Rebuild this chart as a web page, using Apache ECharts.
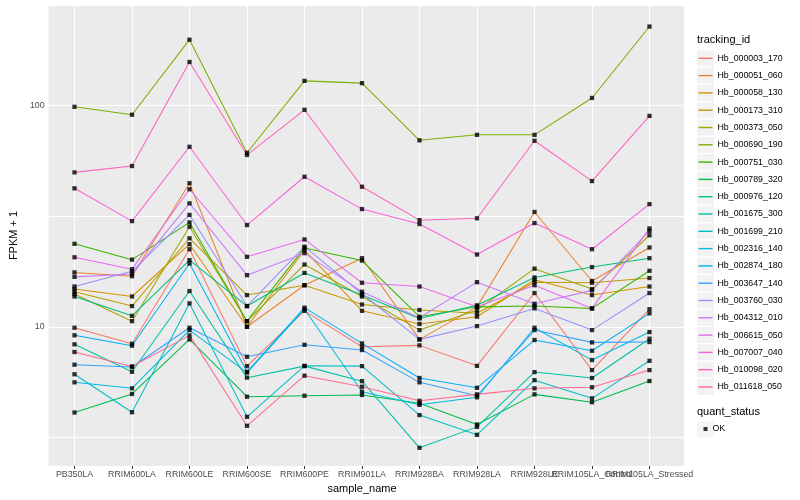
<!DOCTYPE html>
<html>
<head>
<meta charset="utf-8">
<script src="https://cdn.jsdelivr.net/npm/echarts@6/dist/echarts.min.js"></script>
<style>html,body{margin:0;padding:0;background:#fff}#c{width:800px;height:500px}</style>
</head>
<body>
<div id="c"></div>
<script>
const categories = ['PB350LA','RRIM600LA','RRIM600LE','RRIM600SE','RRIM600PE','RRIM901LA','RRIM928BA','RRIM928LA','RRIM928LE','RRIM105LA_Control','RRIM105LA_Stressed'];
const yTickLabels = ['10', '100'];
const yMinorBreaks = [3.162, 31.62];

const hb_000003_170 = [9.90, 8.38, 22.4, 6.64, 11.8, 8.12, 8.24, 6.66, 14.2, 6.37, 12.0];
const hb_000051_060 = [17.6, 16.9, 44.5, 10.0, 15.4, 20.4, 8.77, 12.3, 33.0, 16.1, 22.8];
const hb_000058_130 = [14.8, 13.7, 23.6, 10.0, 22.2, 11.8, 10.3, 11.1, 16.3, 13.9, 15.2];
const hb_000173_310 = [14.4, 12.4, 25.1, 13.9, 15.4, 12.6, 11.9, 11.5, 15.9, 15.8, 16.6];
const hb_000373_050 = [14.05, 10.6, 28.3, 10.6, 19.1, 13.7, 9.66, 11.9, 18.3, 14.8, 25.9];
const hb_000690_190 = [98.5, 90.7, 198, 61.1, 129, 126, 69.5, 73.6, 73.6, 108, 227];
const hb_000751_030 = [23.7, 20.1, 29.6, 10.6, 22.7, 19.9, 11.1, 12.3, 12.4, 12.1, 17.9];
const hb_000789_320 = [4.10, 4.97, 8.77, 4.83, 4.88, 4.92, 4.51, 3.62, 4.95, 4.56, 5.69];
const hb_000976_120 = [13.7, 11.2, 20.0, 12.4, 17.5, 13.9, 10.9, 12.5, 16.7, 18.6, 20.4];
const hb_001675_300 = [8.33, 6.26, 14.5, 5.89, 6.64, 5.68, 2.84, 3.53, 6.24, 5.87, 8.83];
const hb_001699_210 = [6.10, 4.11, 12.75, 3.92, 6.66, 6.64, 3.99, 3.25, 5.74, 4.75, 7.02];
const hb_002316_140 = [5.61, 5.27, 9.66, 6.21, 12.0, 5.09, 4.44, 4.80, 9.90, 7.07, 9.46];
const hb_002874_180 = [9.15, 8.21, 19.3, 6.26, 12.2, 8.41, 5.87, 5.30, 8.71, 7.79, 11.5];
const hb_003647_140 = [6.74, 6.58, 9.90, 7.32, 8.29, 7.85, 5.61, 4.88, 9.66, 8.50, 8.53];
const hb_003760_030 = [15.2, 17.8, 32.0, 12.4, 23.0, 14.1, 8.77, 10.07, 12.1, 9.66, 14.2];
const hb_004312_010 = [16.8, 17.3, 36.1, 17.1, 21.5, 14.4, 10.98, 15.9, 12.7, 14.6, 27.1];
const hb_006615_050 = [20.6, 18.2, 41.8, 20.7, 24.8, 15.8, 15.2, 12.3, 15.4, 12.1, 27.8];
const hb_007007_040 = [42.2, 30.0, 65.0, 28.8, 47.6, 34.0, 29.1, 21.2, 29.4, 22.4, 35.8];
const hb_010098_020 = [49.8, 53.2, 157, 59.7, 95.5, 42.9, 30.3, 30.9, 69.2, 45.5, 89.6];
const hb_011618_050 = [7.69, 6.62, 9.14, 3.57, 6.01, 5.36, 4.63, 4.95, 5.27, 5.33, 6.37];

const seriesNames = ['Hb_000003_170','Hb_000051_060','Hb_000058_130','Hb_000173_310','Hb_000373_050','Hb_000690_190','Hb_000751_030','Hb_000789_320','Hb_000976_120','Hb_001675_300','Hb_001699_210','Hb_002316_140','Hb_002874_180','Hb_003647_140','Hb_003760_030','Hb_004312_010','Hb_006615_050','Hb_007007_040','Hb_010098_020','Hb_011618_050'];
const seriesValues = [hb_000003_170, hb_000051_060, hb_000058_130, hb_000173_310, hb_000373_050, hb_000690_190, hb_000751_030, hb_000789_320, hb_000976_120, hb_001675_300, hb_001699_210, hb_002316_140, hb_002874_180, hb_003647_140, hb_003760_030, hb_004312_010, hb_006615_050, hb_007007_040, hb_010098_020, hb_011618_050];
const quantStatus = 'OK';

const palette = ['#F8766D','#EA8331','#D89000','#C09B00','#A3A500','#7CAE00','#39B600','#00BB4E','#00BF7D','#00C1A3','#00BFC4','#00BAE0','#00B0F6','#35A2FF','#9590FF','#C77CFF','#E76BF3','#FA62DB','#FF62BC','#FF6C91'];

const yMin = 2.35, yMax = 284;
const FONT = 'Liberation Sans, Arial, Helvetica, sans-serif';

const lineSeries = seriesNames.map((n, k) => ({
  name: n, type: 'line', xAxisIndex: 1, yAxisIndex: 1, z: 6,
  data: seriesValues[k], symbol: 'none', color: palette[k],
  lineStyle: { width: 1.05, color: palette[k] }, silent: true
}));
const pts = [];
seriesValues.forEach(arr => arr.forEach((v, i) => pts.push([categories[i], v])));
const pointSeries = {
  name: quantStatus, type: 'scatter', xAxisIndex: 1, yAxisIndex: 1,
  data: pts, symbol: 'rect', symbolSize: 4.3, color: '#000', itemStyle: { color: '#000' }, silent: true, z: 7
};
// helper series on the panel grid that only carries the minor grid lines
const minorGridSeries = {
  name: 'minor', type: 'line', xAxisIndex: 0, yAxisIndex: 0, silent: true, z: 1, symbol: 'none',
  data: yMinorBreaks.map((v, i) => [i, v]),
  lineStyle: { opacity: 0, width: 0 },
  markLine: { silent: true, symbol: ['none', 'none'], label: { show: false }, animation: false, z: 1,
    lineStyle: { color: '#FFFFFF', width: 1, type: 'solid', opacity: 1 },
    data: yMinorBreaks.map(v => ({ yAxis: v })) }
};

const chart = echarts.init(document.getElementById('c'), null, { renderer: 'canvas' });
chart.setOption({
  animation: false,
  textStyle: { fontFamily: FONT },
  title: [
    { text: 'tracking_id', left: 697, top: 34, padding: 0, textStyle: { fontSize: 11, fontWeight: 'normal', color: '#000', fontFamily: FONT } },
    { text: 'quant_status', left: 697, top: 406, padding: 0, textStyle: { fontSize: 11, fontWeight: 'normal', color: '#000', fontFamily: FONT } }
  ],
  grid: [
    { left: 40, right: 116, top: 5, bottom: 34, show: true, backgroundColor: '#EBEBEB', borderWidth: 0 },
    { left: 74.5, right: 150.5, top: 5, bottom: 34 }
  ],
  xAxis: [
    { gridIndex: 0, type: 'value', show: false, min: 0, max: 1 },
    { gridIndex: 1, type: 'category', data: categories, boundaryGap: false,
      axisLine: { show: false },
      axisTick: { show: true, length: 3, interval: 0, lineStyle: { color: '#333333', width: 1 } },
      axisLabel: { interval: 0, margin: 4, fontSize: 8.8, color: '#4D4D4D', fontFamily: FONT },
      splitLine: { show: true, interval: 0, lineStyle: { color: '#FFFFFF', width: 1.2 } },
      name: 'sample_name', nameLocation: 'middle', nameGap: 16,
      nameTextStyle: { fontSize: 11, color: '#000', fontFamily: FONT } }
  ],
  yAxis: [
    { gridIndex: 0, type: 'log', logBase: 10, min: yMin, max: yMax,
      axisLine: { show: false }, axisTick: { show: false },
      axisLabel: { margin: 4, fontSize: 8.8, color: '#4D4D4D', fontFamily: FONT,
        formatter: v => { const s = String(Math.round(v)); return (Math.abs(v - Math.round(v)) < 1e-6 && yTickLabels.indexOf(s) >= 0) ? s : ''; } },
      splitLine: { show: true, lineStyle: { color: '#FFFFFF', width: 1.2 } },
      name: 'FPKM + 1', nameLocation: 'middle', nameGap: 22,
      nameTextStyle: { fontSize: 11, color: '#000', fontFamily: FONT } },
    { gridIndex: 1, type: 'log', logBase: 10, min: yMin, max: yMax, show: false }
  ],
  legend: [
    { data: seriesNames, orient: 'vertical', left: 697, top: 50.3, padding: 0, icon: 'rect',
      itemWidth: 17, itemHeight: 16, itemGap: 1.3, selectedMode: false,
      itemStyle: { color: '#F2F2F2', borderWidth: 0 },
      textStyle: { fontSize: 8.8, color: 'rgba(0,0,0,0)' } },
    { data: seriesNames, orient: 'vertical', left: 698.5, top: 50.3, padding: 0, icon: 'rect',
      itemWidth: 14, itemHeight: 1.4, itemGap: 1.3, itemTextGap: 4.5,
      textStyle: { fontSize: 8.8, color: '#000', fontFamily: FONT, lineHeight: 16 } },
    { data: [quantStatus], orient: 'vertical', left: 697, top: 421, padding: 0, icon: 'rect',
      itemWidth: 17, itemHeight: 16, selectedMode: false,
      itemStyle: { color: '#F2F2F2', borderWidth: 0 },
      textStyle: { fontSize: 8.8, color: 'rgba(0,0,0,0)' } },
    { data: [quantStatus], orient: 'vertical', left: 703.5, top: 421, padding: 0, icon: 'rect',
      itemWidth: 4, itemHeight: 4, itemTextGap: 9.5,
      textStyle: { fontSize: 8.8, color: '#000', fontFamily: FONT, lineHeight: 16 } }
  ],
  series: [minorGridSeries].concat(lineSeries, [pointSeries])
});
</script>
</body>
</html>
